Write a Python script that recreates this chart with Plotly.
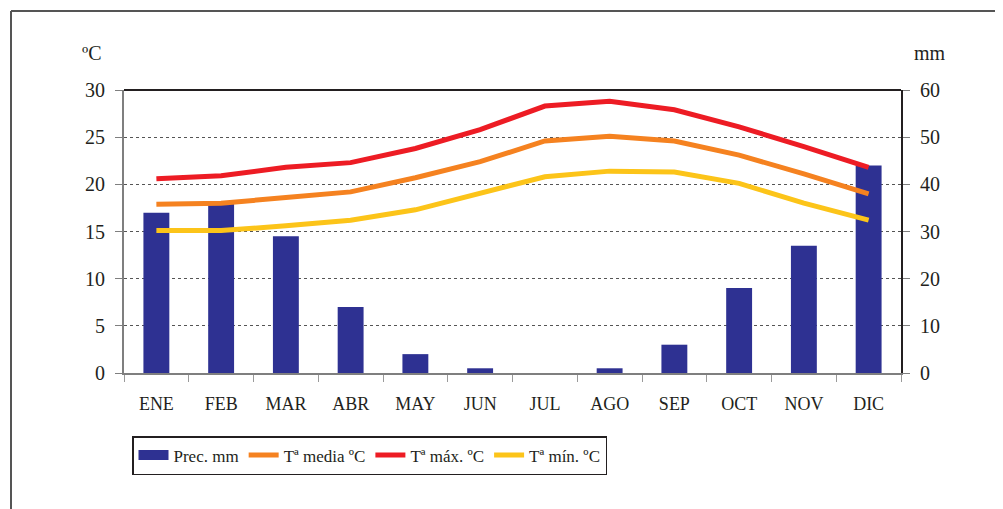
import plotly.graph_objects as go

months = ["ENE", "FEB", "MAR", "ABR", "MAY", "JUN", "JUL", "AGO", "SEP", "OCT", "NOV", "DIC"]
prec_mm = [34, 36, 29, 14, 4, 1, 0, 1, 6, 18, 27, 44]
t_media = [17.9, 18.0, 18.6, 19.2, 20.7, 22.4, 24.6, 25.1, 24.6, 23.1, 21.1, 19.0]
t_max = [20.6, 20.9, 21.8, 22.3, 23.8, 25.8, 28.3, 28.8, 27.9, 26.1, 24.0, 21.8]
t_min = [15.1, 15.1, 15.6, 16.2, 17.3, 19.1, 20.8, 21.4, 21.3, 20.1, 18.0, 16.2]

left_ticks = [0, 5, 10, 15, 20, 25, 30]
right_ticks = [0, 10, 20, 30, 40, 50, 60]

FONT = "Liberation Serif"
TXT = "#231F20"
BAR_C = "#2E3192"

fig = go.Figure()
# legend-only entry so the precipitation key is a wide rectangle
fig.add_trace(go.Scatter(x=[None], y=[None], name="Prec. mm", mode="lines", yaxis="y",
                         line=dict(color=BAR_C, width=10), hoverinfo="skip"))
# bars on the primary (mm, right side) axis so the temperature lines draw on top
fig.add_trace(go.Bar(x=months, y=prec_mm, name="Prec. mm", yaxis="y", showlegend=False,
                     marker=dict(color=BAR_C, line=dict(width=0)), width=0.4))
fig.add_trace(go.Scatter(x=months, y=t_media, name="Tª media ºC", mode="lines", yaxis="y2",
                         line=dict(color="#F58220", width=5)))
fig.add_trace(go.Scatter(x=months, y=t_max, name="Tª máx. ºC", mode="lines", yaxis="y2",
                         line=dict(color="#ED1C24", width=5)))
fig.add_trace(go.Scatter(x=months, y=t_min, name="Tª mín. ºC", mode="lines", yaxis="y2",
                         line=dict(color="#FCC419", width=5)))

# page body has an 8px margin; compensate so screen coords match
O = 8
W, H = 1003 - O, 509 - O
PL, PT, PR, PB = 124, 90, 901, 373  # plot area in screen pixels
pw, ph = PR - PL, PB - PT
L, T = PL - O, PT - O
R, B = W - L - pw, H - T - ph

def px(x):
    return (x - PL) / pw

def py(y):
    return (PB - y) / ph

fig.update_layout(
    width=W, height=H,
    margin=dict(l=L, r=R, t=T, b=B, pad=0),
    paper_bgcolor="white", plot_bgcolor="white",
    font=dict(family=FONT, size=20, color=TXT),
    xaxis=dict(type="category", categoryorder="array", categoryarray=months,
               showline=True, linecolor="#7F7F7F", linewidth=2,
               ticks="outside", tickson="boundaries", ticklen=7, tickcolor="#9A9A9A",
               tickwidth=1, showgrid=False, tickfont=dict(size=18, family=FONT, color=TXT),
               ticklabelstandoff=13),
    yaxis=dict(range=[0, 60], tickvals=right_ticks, side="right",
               showline=True, linecolor="#231F20", linewidth=2, ticks="outside",
               ticklen=7, tickcolor="#7F7F7F",
               showgrid=True, gridcolor="#555555", griddash="dot", gridwidth=1,
               zeroline=False, tickfont=dict(size=20, family=FONT, color=TXT),
               ticklabelstandoff=6),
    yaxis2=dict(range=[0, 30], tickvals=left_ticks, overlaying="y", side="left",
                showline=True, linecolor="#7F7F7F", linewidth=2, ticks="outside",
                ticklen=7, tickcolor="#7F7F7F", showgrid=False, zeroline=False,
                tickfont=dict(size=20, family=FONT, color=TXT), ticklabelstandoff=6),
    legend=dict(orientation="h", x=px(132), y=py(436), xanchor="left", yanchor="top",
                bordercolor="#231F20", borderwidth=1.5, bgcolor="white",
                font=dict(size=17, family=FONT, color=TXT),
                itemwidth=30, traceorder="normal"),
    showlegend=True,
)

# top border of the plot area
fig.add_shape(type="line", xref="paper", yref="paper", x0=0, x1=1, y0=1, y1=1,
              line=dict(color="#231F20", width=2))
# outer frame (left and top)
fig.add_shape(type="line", xref="paper", yref="paper", x0=px(11), x1=px(11),
              y0=py(509), y1=py(11), line=dict(color="#555555", width=2))
fig.add_shape(type="line", xref="paper", yref="paper", x0=px(11), x1=px(1003),
              y0=py(11), y1=py(11), line=dict(color="#555555", width=2))

fig.add_annotation(text="ºC", xref="paper", yref="paper", x=px(92), y=py(53),
                   showarrow=False, xanchor="center", yanchor="middle",
                   font=dict(size=20, family=FONT, color=TXT))
fig.add_annotation(text="mm", xref="paper", yref="paper", x=px(930), y=py(53),
                   showarrow=False, xanchor="center", yanchor="middle",
                   font=dict(size=20, family=FONT, color=TXT))

fig.write_html("out.html")
